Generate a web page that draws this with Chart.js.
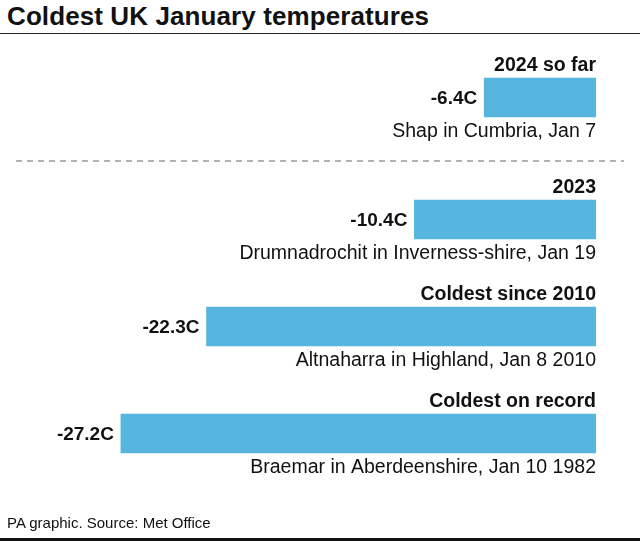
<!DOCTYPE html>
<html lang="en">
<head>
    <meta charset="UTF-8">
    <title>Coldest UK January temperatures</title>
    <script src="https://cdn.jsdelivr.net/npm/chart.js"></script>
    <style>
        body {
            margin: 0;
            background: #fff;
            font-family: "Liberation Sans", Arial, sans-serif;
            color: #111;
        }
        .page {
            position: relative;
            width: 640px;
            height: 541px;
            overflow: hidden;
        }
        .page canvas {
            position: absolute;
            left: 0;
            top: 0;
        }
        h1 {
            position: absolute;
            left: 7px;
            top: 1px;
            margin: 0;
            font-size: 26px;
            font-weight: bold;
            letter-spacing: 0.1px;
        }
        .rule-top {
            position: absolute;
            left: 0; top: 33px;
            width: 640px; height: 0;
            border-top: 1.5px solid #222;
        }
        .rule-bottom {
            position: absolute;
            left: 0; top: 538px;
            width: 640px; height: 3px;
            background: #111;
        }
        .source {
            position: absolute;
            left: 7px; top: 514px;
            font-size: 15px;
        }
        svg.sep {
            position: absolute;
            left: 0; top: 155px;
        }
    </style>
</head>
<body>
<div class="page">
    <h1>Coldest UK January temperatures</h1>
    <div class="rule-top"></div>
    <svg class="sep" width="640" height="12">
        <line x1="16" y1="6" x2="624" y2="6" stroke="#9a9a9a" stroke-width="1.5" stroke-dasharray="6 5"/>
    </svg>
    <canvas id="recent" width="640" height="541"></canvas>
    <canvas id="records" width="640" height="541"></canvas>
    <div class="source">PA graphic. Source: Met Office</div>
    <div class="rule-bottom"></div>
</div>

<script>
    // data
    const recentLabels = ['2024 so far'];
    const recentValues = [-6.4];
    const recentPlaces = ['Shap in Cumbria, Jan 7'];

    const recordLabels = ['2023', 'Coldest since 2010', 'Coldest on record'];
    const recordValues = [-10.4, -22.3, -27.2];
    const recordPlaces = [
        'Drumnadrochit in Inverness-shire, Jan 19',
        'Altnaharra in Highland, Jan 8 2010',
        'Braemar in Aberdeenshire, Jan 10 1982'
    ];

    const barColor = '#57b6df';
    const fontFamily = '"Liberation Sans", Arial, sans-serif';

    // heading above, value on the left, place below each bar
    const barText = {
        id: 'barText',
        afterDatasetsDraw(chart) {
            const ctx = chart.ctx;
            const places = chart.options.plugins.barText.places;
            const meta = chart.getDatasetMeta(0);
            ctx.save();
            ctx.fillStyle = '#111';
            meta.data.forEach((bar, i) => {
                const top = bar.y - bar.height / 2;
                const bottom = bar.y + bar.height / 2;
                const right = Math.max(bar.x, bar.base);
                const left = Math.min(bar.x, bar.base);

                ctx.textAlign = 'right';
                ctx.font = 'bold 19.5px ' + fontFamily;
                ctx.textBaseline = 'alphabetic';
                ctx.fillText(chart.data.labels[i], right, top - 7);

                ctx.font = 'bold 19px ' + fontFamily;
                ctx.textBaseline = 'middle';
                ctx.fillText(chart.data.datasets[0].data[i] + 'C', left - 7, bar.y + 1);

                ctx.font = '19.5px ' + fontFamily;
                ctx.textBaseline = 'alphabetic';
                ctx.fillText(places[i], right, bottom + 20);
            });
            ctx.restore();
        }
    };

    function makeChart(id, labels, values, places, padTop, padBottom) {
        return new Chart(document.getElementById(id), {
            type: 'bar',
            data: {
                labels: labels,
                datasets: [{
                    data: values,
                    backgroundColor: barColor,
                    borderWidth: 0,
                    barThickness: 39
                }]
            },
            options: {
                indexAxis: 'y',
                responsive: false,
                animation: false,
                layout: {
                    padding: { left: 72, right: 44, top: padTop, bottom: padBottom }
                },
                scales: {
                    x: { display: false, min: -30, max: 0 },
                    y: { display: false }
                },
                plugins: {
                    legend: { display: false },
                    tooltip: { enabled: false },
                    barText: { places: places }
                }
            },
            plugins: [barText]
        });
    }

    makeChart('recent', recentLabels, recentValues, recentPlaces, 48, 394);
    makeChart('records', recordLabels, recordValues, recordPlaces, 166, 54);
</script>
</body>
</html>
